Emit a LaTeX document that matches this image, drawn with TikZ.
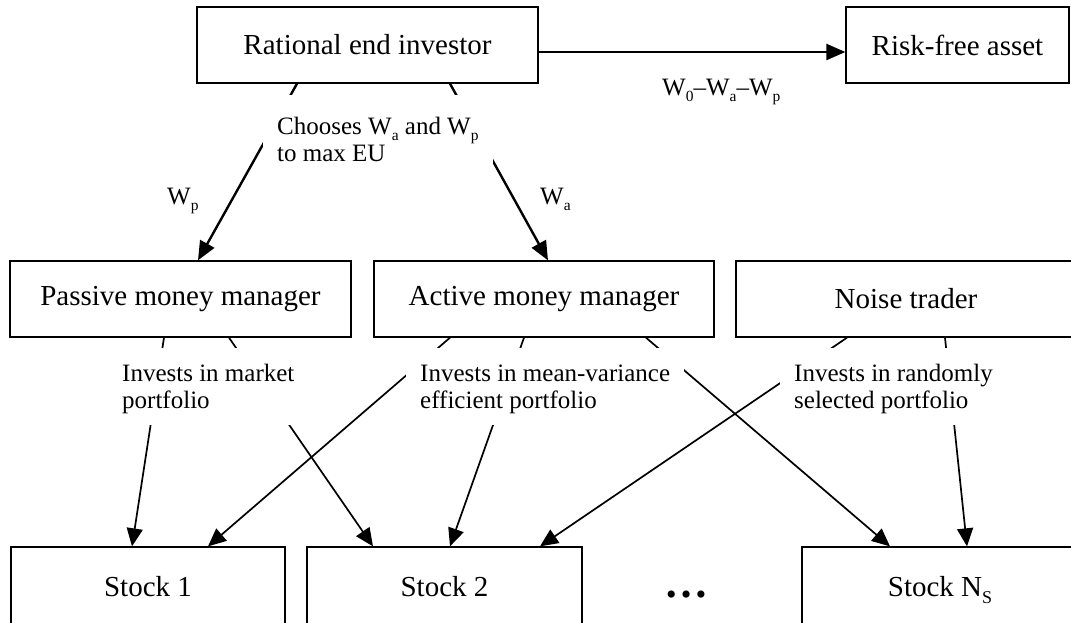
\documentclass[tikz,border=0pt]{standalone}
\usepackage{fontspec}
\usepackage{graphicx}
\setmainfont{Liberation Serif}
\usetikzlibrary{arrows.meta}
\newcommand\sbsc[1]{\smash{\raisebox{-0.24em}{\scalebox{0.62}{#1}}}}
\tikzset{
  box/.style={draw, line width=1.3pt, inner sep=0pt, minimum height=76pt, font=\fontsize{29}{34}\selectfont},
  lbl/.style={fill=white, inner xsep=14pt, inner ysep=0pt, align=left, anchor=north west, font=\fontsize{25}{27}\selectfont},
  txt/.style={inner sep=0pt, anchor=base west, font=\fontsize{25}{27}\selectfont},
  toparrow/.style={line width=2.4pt, -{Triangle[length=19pt,width=16pt]}},
  botarrow/.style={line width=1.7pt, -{Triangle[length=18pt,width=16pt]}},
}
\begin{document}
\begin{tikzpicture}[x=1pt,y=-1pt]
\useasboundingbox (0,0) rectangle (1071,622);
% boxes
\node[box, minimum width=341pt] (R) at (367.5,45) {Rational end investor};
\node[box, minimum width=223pt] (RF) at (957.5,45) {Risk-free asset};
\node[box, minimum width=341pt] (P) at (180.5,299) {Passive money manager};
\node[box, minimum width=340pt] (A) at (544,299) {Active money manager};
\node[box, minimum width=340pt] (N) at (906,299) {Noise trader};
\node[box, minimum width=274pt, minimum height=80pt] (S1) at (148,587) {Stock 1};
\node[box, minimum width=275pt, minimum height=80pt] (S2) at (444.5,587) {Stock 2};
\node[box, minimum width=276pt, minimum height=80pt] (SN) at (940,587) {Stock N\sbsc{S}};
\node[inner sep=0pt, font=\fontsize{44}{44}\selectfont\bfseries] (dots) at (686,595) {…};
% connectors
\draw[toparrow] ([yshift=-7pt]R.east) -- ([yshift=-7pt]RF.west);
\draw[toparrow] ([xshift=-70.5pt]R.south) -- ([xshift=17.5pt]P.north);
\draw[toparrow] ([xshift=82.5pt]R.south) -- ([xshift=4pt]A.north);
\draw[botarrow] ([xshift=-16.5pt]P.south) -- ([xshift=-16pt]S1.north);
\draw[botarrow] ([xshift=48.5pt]P.south) -- ([xshift=-71.5pt]S2.north);
\draw[botarrow] ([xshift=-94pt]A.south) -- ([xshift=60pt]S1.north);
\draw[botarrow] ([xshift=-20pt]A.south) -- ([xshift=5.5pt]S2.north);
\draw[botarrow] ([xshift=102pt]A.south) -- ([xshift=-50pt]SN.north);
\draw[botarrow] ([xshift=-59pt]N.south) -- ([xshift=95.5pt]S2.north);
\draw[botarrow] ([xshift=39pt]N.south) -- ([xshift=27pt]SN.north);
% labels
\node[lbl] (L0) at (263,95) {\rule{0pt}{39pt}Chooses W\sbsc{a} and W\sbsc{p}\\to max EU\rule[-10pt]{0pt}{10pt}};
\node[lbl] (L1) at (108,348) {\rule{0pt}{33pt}Invests in market\\portfolio\rule[-17pt]{0pt}{17pt}};
\node[lbl] (L2) at (406,348) {\rule{0pt}{33pt}Invests in mean-variance\\efficient portfolio\rule[-17pt]{0pt}{17pt}};
\node[lbl] (L3) at (780,348) {\rule{0pt}{33pt}Invests in randomly\\selected portfolio\rule[-17pt]{0pt}{17pt}};
\node[txt] (Wp) at (167,204) {W\sbsc{p}};
\node[txt] (Wa) at (540,204) {W\sbsc{a}};
\node[txt] (W0) at (662,95) {W\sbsc{0}–W\sbsc{a}–W\sbsc{p}};
\end{tikzpicture}
\end{document}
